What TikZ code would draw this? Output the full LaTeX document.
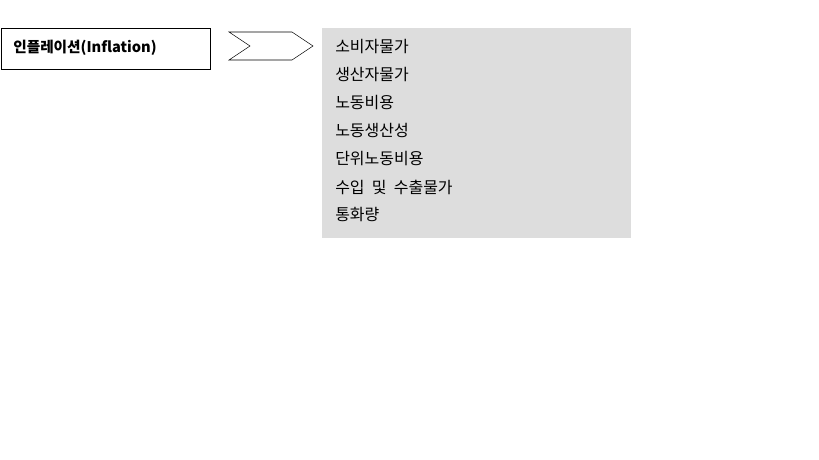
\documentclass[tikz,border=0pt]{standalone}
\usepackage{fontspec}
\setmainfont{Noto Sans CJK KR}
\usepackage{xcolor}
\usetikzlibrary{positioning}
\definecolor{listbg}{RGB}{221,221,221}

\begin{document}
\begin{tikzpicture}[x=0.75pt, y=-0.75pt,
    title/.style={rectangle, draw, minimum width=209*0.75pt, minimum height=41*0.75pt, anchor=north west, inner sep=0pt},
    listbox/.style={rectangle, fill=listbg, minimum width=309*0.75pt, minimum height=210*0.75pt, anchor=north west, inner sep=0pt},
    item/.style={anchor=west, font=\fontsize{12}{14}\selectfont, inner sep=0pt}
]
\useasboundingbox (0,0) rectangle (819,460);

\node[title] (infl) at (1,28.5) {};
\node[anchor=west, font=\bfseries\fontsize{11}{13}\selectfont, inner sep=0pt] (infltxt) at (13,48) {인플레이션(Inflation)};

% chevron
\draw[fill=white] (229,32) -- (292,32) -- (313,46) -- (292,60) -- (229,60) -- (250,46) -- cycle;

\node[listbox] (list) at (322,28) {};
\foreach \t [count=\i] in {소비자물가, 생산자물가, 노동비용, 노동생산성, 단위노동비용, {수입\hspace{.45em}및\hspace{.45em}수출물가}, 통화량}
    \node[item] (item\i) at (335,47+28*\i-28) {\t};

\end{tikzpicture}
\end{document}
